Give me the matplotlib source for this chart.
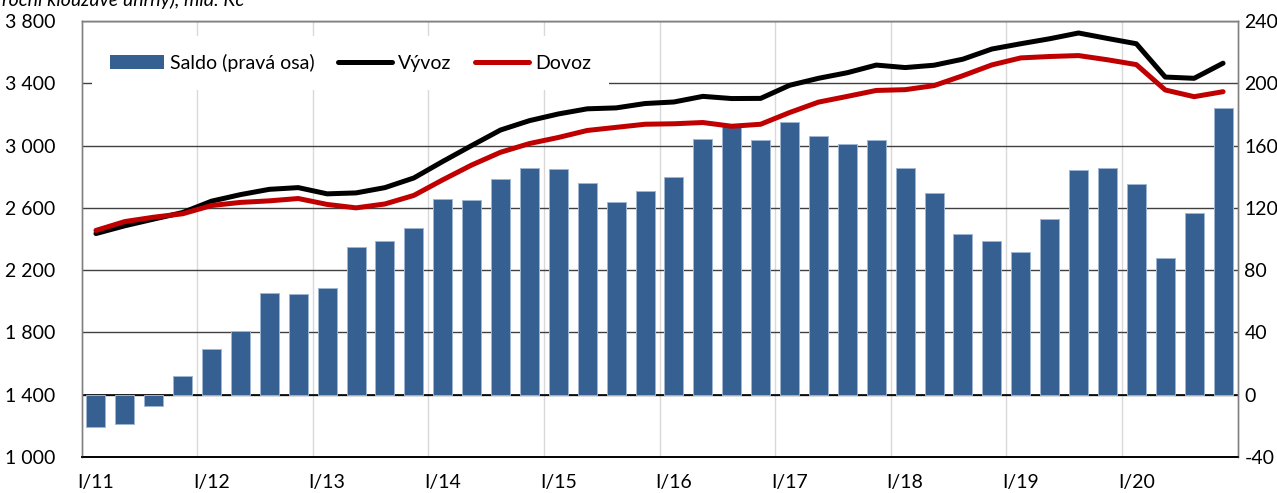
import numpy as np
import matplotlib
matplotlib.use("Agg")
import matplotlib.pyplot as plt
from matplotlib.patches import Patch
from matplotlib.lines import Line2D

plt.rcParams['font.family'] = ['Lato', 'DejaVu Sans']

# quarterly data I/11 .. IV/20
saldo = [-21, -19, -7.5, 12, 29.5, 41, 65.5, 64.5, 68.5, 95,
         99, 107, 125.5, 125, 138.5, 145.5, 144.8, 136, 124, 131,
         139.5, 164.5, 174, 163.5, 175, 166, 161, 163.6, 145.7, 129.4,
         103.5, 98.5, 91.5, 112.7, 144.6, 145.8, 135.2, 87.8, 117, 184.2]
vyvoz = [2435, 2485, 2528, 2570, 2643, 2685, 2719, 2730, 2690, 2696,
         2730, 2792, 2898, 3000, 3100, 3160, 3203, 3236, 3242, 3270,
         3280, 3316, 3302, 3303, 3387, 3432, 3468, 3517, 3501, 3516,
         3555, 3620, 3654, 3686, 3723, 3688, 3654, 3440, 3432, 3529]
dovoz = [2455, 2512, 2540, 2562, 2615, 2635, 2645, 2660, 2622, 2600,
         2625, 2680, 2780, 2875, 2957, 3013, 3052, 3097, 3117, 3137,
         3140, 3148, 3124, 3137, 3212, 3279, 3316, 3354, 3359, 3385,
         3449, 3518, 3563, 3572, 3578, 3551, 3520, 3357, 3314, 3346]
year_labels = ['I/11', 'I/12', 'I/13', 'I/14', 'I/15',
               'I/16', 'I/17', 'I/18', 'I/19', 'I/20']

left_ticks = [1000, 1400, 1800, 2200, 2600, 3000, 3400, 3800]
right_ticks = [-40, 0, 40, 80, 120, 160, 200, 240]

BAR = '#376092'
FS = 14

x = np.arange(len(saldo))

fig = plt.figure(figsize=(12.77, 4.93), dpi=100)
ax_bar = fig.add_axes([81.5 / 1277, 1 - 457 / 493, (1237.5 - 81.5) / 1277, (457 - 21) / 493])
ax_line = ax_bar.twinx()

# bars on the right-hand axis
ax_bar.bar(x, saldo, width=0.66, color=BAR, edgecolor='#9fb6d2', linewidth=0.7, zorder=2)
ax_bar.set_xlim(-0.5, len(saldo) - 0.5)
ax_bar.set_ylim(-40, 240)
ax_bar.set_yticks(right_ticks)
ax_bar.set_yticklabels([str(v) for v in right_ticks])
ax_bar.yaxis.tick_right()
ax_bar.set_axisbelow(True)
ax_bar.grid(axis='y', color='#404040', linewidth=1.0, zorder=0)
ax_bar.set_xticks(np.arange(3.5, len(saldo) - 1, 4), minor=True)
ax_bar.grid(axis='x', which='minor', color='#d9d9d9', linewidth=1.0, zorder=0)
ax_bar.set_xticks(np.arange(0, len(saldo), 4))
ax_bar.set_xticklabels(year_labels)
ax_bar.axhline(0, color='black', linewidth=1.2, zorder=1)
ax_bar.tick_params(axis='both', which='both', length=0, labelsize=FS)
ax_bar.tick_params(axis='x', pad=12)
ax_bar.tick_params(axis='y', pad=5)

# lines on the left-hand axis
ax_line.plot(x, vyvoz, color='black', linewidth=3.6, solid_capstyle='round', zorder=3)
ax_line.plot(x, dovoz, color='#c00000', linewidth=3.6, solid_capstyle='round', zorder=3)
ax_line.set_ylim(1000, 3800)
ax_line.set_yticks(left_ticks)
ax_line.set_yticklabels([f'{v:,}'.replace(',', ' ') for v in left_ticks])
ax_line.yaxis.tick_left()
ax_line.tick_params(axis='y', length=0, labelsize=FS, pad=19)

for a in (ax_bar, ax_line):
    for side in ('left', 'right', 'top'):
        a.spines[side].set_color('#808080')
        a.spines[side].set_linewidth(1.0)
    a.spines['bottom'].set_color('black')
    a.spines['bottom'].set_linewidth(1.2)

handles = [Patch(facecolor=BAR, edgecolor='none'),
           Line2D([], [], color='black', linewidth=3.6, solid_capstyle='round'),
           Line2D([], [], color='#c00000', linewidth=3.6, solid_capstyle='round')]
leg = ax_line.legend(handles, ['Saldo (pravá osa)', 'Vývoz', 'Dovoz'],
                     ncol=3, loc='center left',
                     bbox_to_anchor=(92 / 1277, 1 - 63 / 493),
                     bbox_transform=fig.transFigure,
                     fontsize=FS, frameon=True, fancybox=False,
                     facecolor='white', edgecolor='none', framealpha=1,
                     handlelength=2.8, handleheight=0.7, handletextpad=0.3,
                     columnspacing=1.2, borderpad=0.9, borderaxespad=0)
leg.set_zorder(5)

fig.text(2 / 1277, 1 - 6 / 493, 'roční klouzavé úhrny), mld. Kč',
         fontsize=FS, style='italic', ha='left', va='baseline')

fig.savefig('out.png', dpi=100)
